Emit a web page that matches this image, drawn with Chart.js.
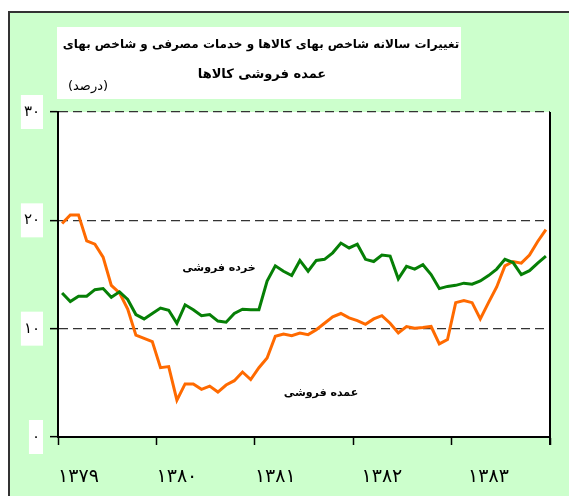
<!DOCTYPE html>
<html>
<head>
<meta charset="utf-8">
<script src="https://cdn.jsdelivr.net/npm/chart.js@4/dist/chart.umd.min.js"></script>
<style>
  html, body { margin: 0; padding: 0; background: #fff; }
  #wrap { width: 569px; height: 496px; position: relative; }
</style>
</head>
<body>
<div id="wrap"><canvas id="chart" width="569" height="496"></canvas></div>
<script>
  // years (Persian calendar) and monthly values, percent
  const years = [1379, 1380, 1381, 1382, 1383];
  const yearLabelAt = [2, 14, 26, 39, 52];

  // retail - consumer price index (green)
  const retail = [
    13.3, 12.5, 13.0, 13.0, 13.6, 13.7, 12.9, 13.4, 12.7, 11.3, 10.9, 11.4,
    11.9, 11.7, 10.5, 12.2, 11.75, 11.2, 11.3, 10.7, 10.6, 11.4, 11.8, 11.75,
    11.75, 14.4, 15.8, 15.3, 14.9, 16.3, 15.3, 16.3, 16.4, 17.0, 17.9, 17.45,
    17.8, 16.4, 16.2, 16.8, 16.7, 14.6, 15.75, 15.5, 15.9, 15.0, 13.7, 13.9,
    14.0, 14.2, 14.1, 14.4, 14.9, 15.5, 16.4, 16.1, 15.0, 15.35, 16.05, 16.7
  ];

  // wholesale price index (orange)
  const wholesale = [
    19.7, 20.5, 20.5, 18.1, 17.8, 16.6, 14.0, 13.3, 11.8, 9.4, 9.1, 8.8,
    6.4, 6.5, 3.4, 4.9, 4.9, 4.4, 4.7, 4.15, 4.8, 5.2, 6.0, 5.3,
    6.4, 7.3, 9.3, 9.5, 9.35, 9.6, 9.45, 9.9, 10.5, 11.1, 11.4, 11.0,
    10.75, 10.4, 10.9, 11.2, 10.5, 9.6, 10.2, 10.05, 10.1, 10.2, 8.6, 9.0,
    12.4, 12.6, 12.4, 10.9, 12.4, 13.85, 15.8, 16.2, 16.05, 16.8, 18.05, 19.15
  ];

  const yTicks = [0, 10, 20, 30];

  const title1 = 'تغییرات سالانه شاخص بهای کالاها و خدمات مصرفی و شاخص بهای';
  const title2 = 'عمده فروشی کالاها';
  const unitLabel = '(درصد)';
  const retailLabel = 'خرده فروشی';
  const wholesaleLabel = 'عمده فروشی';

  function fa(n) {
    return String(n).replace(/\d/g, d => '۰۱۲۳۴۵۶۷۸۹'[d]);
  }

  const months = [];
  years.forEach(y => { for (let m = 1; m <= 12; m++) months.push(y + '-' + m); });

  const FONT = "'DejaVu Sans', sans-serif";

  const frame = {
    id: 'frame',
    beforeDraw(chart) {
      const c = chart.ctx, a = chart.chartArea;
      c.save();
      c.fillStyle = '#fff';
      c.fillRect(0, 0, chart.width, chart.height);
      c.fillStyle = '#CCFFCC';
      c.fillRect(9, 12, chart.width - 9, chart.height - 12);
      c.strokeStyle = '#333';
      c.lineWidth = 2;
      c.beginPath();
      c.moveTo(9, chart.height);
      c.lineTo(9, 12);
      c.lineTo(chart.width, 12);
      c.stroke();
      c.fillStyle = '#fff';
      c.fillRect(a.left, a.top, a.right - a.left, a.bottom - a.top);
      // title box
      c.fillRect(57, 27, 404, 72);
      c.restore();
    },
    afterDraw(chart) {
      const c = chart.ctx, a = chart.chartArea;
      c.save();
      c.strokeStyle = '#000';
      c.lineWidth = 2;
      c.beginPath();
      c.moveTo(a.right, a.top);
      c.lineTo(a.right, a.bottom + 8);
      c.stroke();

      c.direction = 'rtl';
      c.fillStyle = '#000';
      c.textAlign = 'center';
      c.textBaseline = 'middle';
      c.font = 'bold 12px ' + FONT;
      c.fillText(title1, 261, 45);
      c.font = 'bold 13px ' + FONT;
      c.fillText(title2, 262, 75);
      c.font = '13px ' + FONT;
      c.fillText(unitLabel, 88, 87);

      c.font = 'bold 11px ' + FONT;
      c.fillText(retailLabel, 219, 268);
      c.fillText(wholesaleLabel, 321, 393);
      c.restore();
    }
  };

  new Chart(document.getElementById('chart'), {
    type: 'line',
    data: {
      labels: months,
      datasets: [
        {
          label: 'retail',
          data: retail,
          borderColor: '#067F06',
          borderWidth: 3,
          pointRadius: 0,
          tension: 0
        },
        {
          label: 'wholesale',
          data: wholesale,
          borderColor: '#FF6A00',
          borderWidth: 3,
          pointRadius: 0,
          tension: 0
        }
      ]
    },
    options: {
      responsive: false,
      animation: false,
      layout: { padding: { top: 112, right: 19, left: 0, bottom: 0 } },
      plugins: {
        legend: { display: false },
        tooltip: { enabled: false }
      },
      scales: {
        x: {
          type: 'category',
          offset: true,
          afterFit: s => { s.height = 59; },
          grid: {
            offset: true,
            drawOnChartArea: false,
            tickLength: 8,
            tickWidth: 1.5,
            tickColor: ctx => (ctx.index === undefined || ctx.index % 12 === 0) ? '#000' : 'rgba(0,0,0,0)'
          },
          border: { color: '#000', width: 2 },
          ticks: {
            autoSkip: false,
            maxRotation: 0,
            padding: 21,
            color: '#000',
            font: { family: FONT, size: 19 },
            callback: (v, i) => {
              const k = yearLabelAt.indexOf(i);
              return k >= 0 ? fa(years[k]) : '';
            }
          }
        },
        y: {
          min: 0,
          max: 30,
          afterFit: s => { s.width = 58; },
          afterBuildTicks: s => { s.ticks = yTicks.map(v => ({ value: v })); },
          grid: {
            color: '#333',
            lineWidth: 1.3,
            tickLength: 8,
            tickColor: '#000',
            tickWidth: 1.5
          },
          border: { color: '#000', width: 2, dash: [9, 5] },
          ticks: {
            padding: 10,
            color: '#000',
            font: { family: FONT, size: 15 },
            showLabelBackdrop: true,
            backdropColor: '#fff',
            backdropPadding: { top: 8, bottom: 8, left: 3, right: 3 },
            callback: v => fa(v)
          }
        }
      }
    },
    plugins: [frame]
  });
</script>
</body>
</html>
